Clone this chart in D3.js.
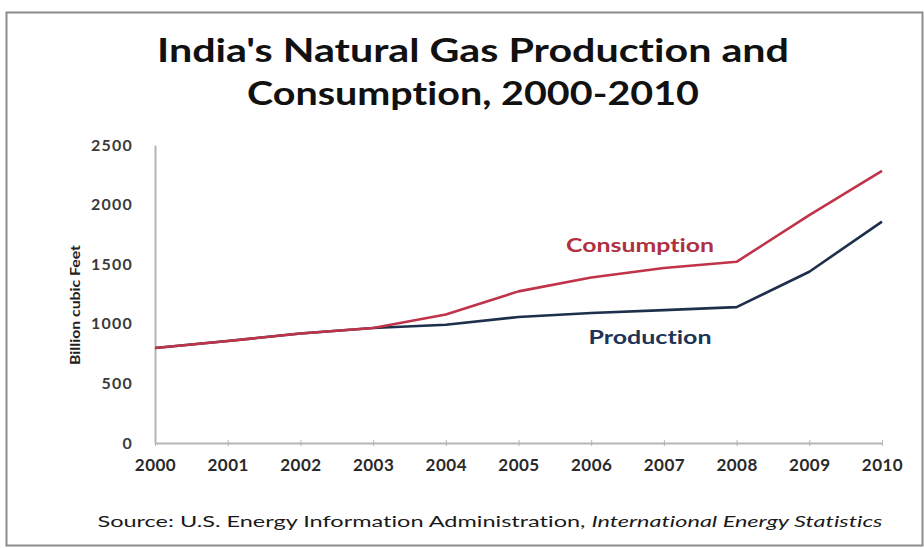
<!DOCTYPE html>
<html>
<head>
<meta charset="utf-8">
<script src="https://cdn.jsdelivr.net/npm/d3@7"></script>
<style>
  html, body { margin: 0; padding: 0; background: #fff; }
  svg { display: block; }
  text { font-family: Lato, "Open Sans", "DejaVu Sans", sans-serif; font-variant-ligatures: none; }
</style>
</head>
<body>
<svg id="chart" width="924" height="548"></svg>
<script>
// India natural gas, billion cubic feet
const years = [2000, 2001, 2002, 2003, 2004, 2005, 2006, 2007, 2008, 2009, 2010];
const consumption = [797, 856, 918, 965, 1078, 1272, 1388, 1468, 1520, 1912, 2282];
const production  = [797, 856, 918, 965, 992, 1057, 1090, 1115, 1140, 1437, 1857];
const yTicks = [0, 500, 1000, 1500, 2000, 2500];

const titleLines = ["India's Natural Gas Production and", "Consumption, 2000-2010"];
const yLabel = "Billion cubic Feet";
const sourcePlain = "Source: U.S. Energy Information Administration, ";
const sourceItalic = "International Energy Statistics";

const svg = d3.select("#chart");

// outer frame
svg.append("rect")
  .attr("x", 6.5).attr("y", 12.5).attr("width", 916).attr("height", 533)
  .attr("fill", "#fff").attr("stroke", "#8c8c8c").attr("stroke-width", 2);

const x = d3.scaleLinear().domain([2000, 2010]).range([155, 882]);
const y = d3.scaleLinear().domain([0, 2500]).range([443, 145]);

// title
svg.append("g").selectAll("text").data(titleLines).join("text")
  .attr("x", 473)
  .attr("y", (d, i) => 62 + i * 43)
  .attr("text-anchor", "middle")
  .attr("font-size", 33)
  .attr("font-weight", 700)
  .attr("fill", "#111")
  .attr("textLength", (d, i) => i === 0 ? 632 : 452)
  .attr("lengthAdjust", "spacingAndGlyphs")
  .text(d => d);

// y axis
const yAxis = svg.append("g")
  .attr("transform", `translate(${x.range()[0]},0)`)
  .call(d3.axisLeft(y).tickValues(yTicks).tickSize(0).tickPadding(22).tickFormat(d3.format("d")));
yAxis.select(".domain").attr("stroke", "#b5b5b5").attr("stroke-width", 2);
yAxis.selectAll("text")
  .attr("font-size", 16).attr("font-weight", 700).attr("fill", "#3a3a3a")
  .attr("letter-spacing", 1.2)
  .attr("font-family", "Lato, sans-serif");

// x axis
const xAxis = svg.append("g")
  .attr("transform", `translate(0,${y(0)})`)
  .call(d3.axisBottom(x).tickValues(years).tickSize(4).tickSizeOuter(0).tickPadding(12).tickFormat(d3.format("d")));
xAxis.select(".domain").attr("stroke", "#b5b5b5").attr("stroke-width", 2);
xAxis.selectAll(".tick line").attr("stroke", "#b5b5b5").attr("y1", -3).attr("y2", 3);
xAxis.selectAll("text")
  .attr("font-size", 17).attr("font-weight", 700).attr("fill", "#2a2a2a")
  .attr("letter-spacing", 0.5)
  .attr("font-family", "Lato, sans-serif");

// axis title
svg.append("text")
  .attr("transform", "translate(80,305) rotate(-90)")
  .attr("text-anchor", "middle")
  .attr("font-size", 13).attr("font-weight", 700).attr("fill", "#222")
  .attr("textLength", 120).attr("lengthAdjust", "spacingAndGlyphs")
  .text(yLabel);

// series lines
const line = d3.line().x((d, i) => x(years[i])).y(d => y(d));
svg.append("path").datum(production)
  .attr("fill", "none").attr("stroke", "#1d2f4b").attr("stroke-width", 2.6)
  .attr("stroke-linejoin", "round").attr("d", line);
svg.append("path").datum(consumption)
  .attr("fill", "none").attr("stroke", "#c03349").attr("stroke-width", 2.6)
  .attr("stroke-linejoin", "round").attr("d", line);

// series labels
svg.append("text")
  .attr("x", 640).attr("y", 252)
  .attr("text-anchor", "middle")
  .attr("font-size", 18).attr("font-weight", 700).attr("fill", "#b0303f")
  .attr("textLength", 148).attr("lengthAdjust", "spacingAndGlyphs")
  .text("Consumption");
svg.append("text")
  .attr("x", 650).attr("y", 344)
  .attr("text-anchor", "middle")
  .attr("font-size", 18).attr("font-weight", 700).attr("fill", "#1d3456")
  .attr("textLength", 123).attr("lengthAdjust", "spacingAndGlyphs")
  .text("Production");

// source line
const src = svg.append("text")
  .attr("x", 490).attr("y", 527)
  .attr("text-anchor", "middle")
  .attr("font-size", 15).attr("fill", "#1a1a1a")
  .attr("textLength", 785).attr("lengthAdjust", "spacingAndGlyphs");
src.append("tspan").text(sourcePlain);
src.append("tspan").attr("font-style", "italic").text(sourceItalic);
</script>
</body>
</html>
